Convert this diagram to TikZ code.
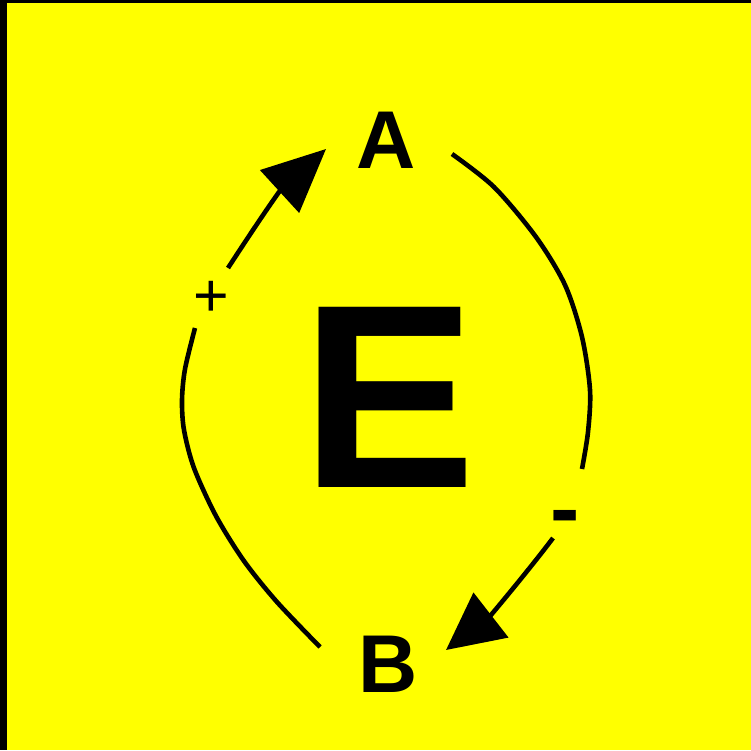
\documentclass[tikz,border=0pt]{standalone}
\usepackage{fontspec}
\setmainfont{Liberation Sans}
\usetikzlibrary{arrows.meta}
\definecolor{bgyellow}{RGB}{255,255,0}
\begin{document}
\begin{tikzpicture}[x=1pt,y=-1pt,
  arc/.style={line width=4.6pt, line join=round},
  headA/.style={-{Triangle[length=63pt,width=57pt]}},
  headB/.style={-{Triangle[length=57pt,width=56pt]}},
  lbl/.style={inner sep=0pt, anchor=base, font=\fontsize{82}{82}\selectfont\bfseries},
  sign/.style={inner sep=0pt}
]
\useasboundingbox (0,0) rectangle (751,750);
\fill[bgyellow] (0,0) rectangle (751,750);
\fill[black] (0,0) rectangle (7,750);
\fill[black] (0,0) rectangle (751,3);

\node[lbl] (A) at (386.5,168) {A};
\node[lbl] (B) at (388.5,692) {B};
\node[inner sep=0pt, anchor=base, font=\fontsize{262}{262}\selectfont\bfseries] (E) at (389,487) {E};
\node[sign, font=\fontsize{61}{61}\selectfont] (plus) at (211,299) {+};
\node[sign, font=\fontsize{88}{88}\selectfont\bfseries] (minus) at (565,524) {-};

\coordinate (L0) at (320,647);
\coordinate (L1) at (195,328);
\coordinate (L2) at (228,268);
\coordinate (LK) at (279,192);
\coordinate (LA) at (326,149);
\coordinate (R0) at (452,154);
\coordinate (R1) at (582,469);
\coordinate (R2) at (553,538);
\coordinate (RK) at (491,615);
\coordinate (RB) at (446,650);

% left arc, lower part
\draw[arc] plot[smooth] coordinates {(L0) (277,602) (244,561) (216,516) (194,468) (184,430) (182,400) (185,369) (L1)};
% left arc, upper part with head at A
\draw[arc,headA] (L2) .. controls (243,245) and (262,216) .. (LK) -- (LA);
% right arc, upper part
\draw[arc] plot[smooth] coordinates {(R0) (494,187) (536,237) (565,285) (582,337) (590,390) (588,432) (R1)};
% right arc, lower part with head at B
\draw[arc,headB] (R2) .. controls (538,558) and (512,590) .. (RK) -- (RB);
\end{tikzpicture}
\end{document}
